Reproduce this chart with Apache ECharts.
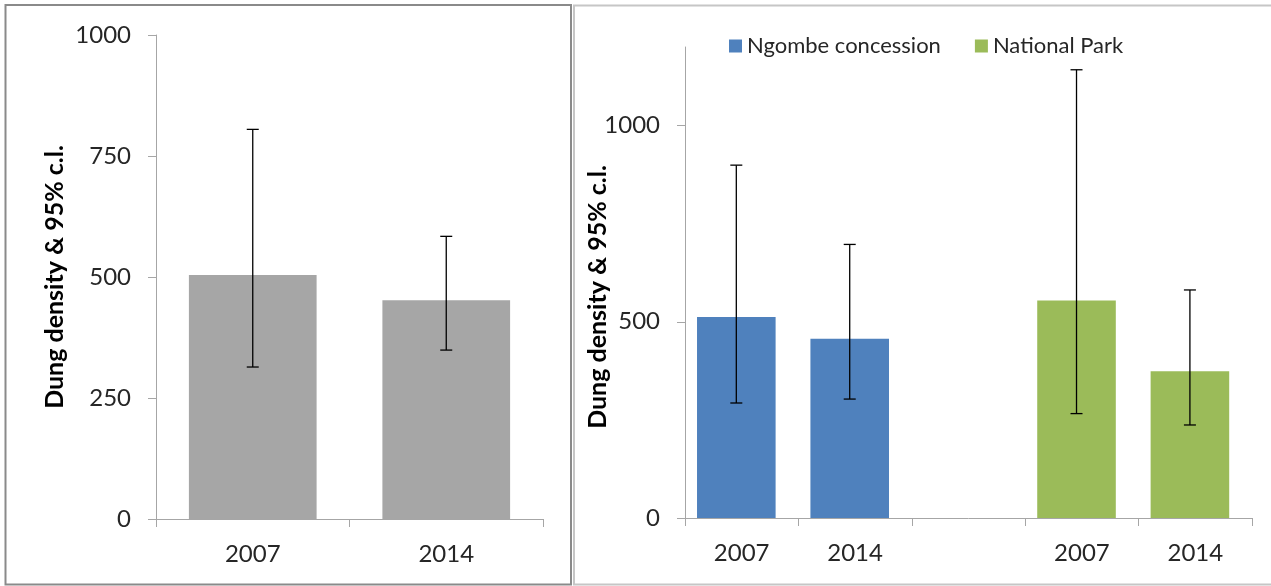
<!DOCTYPE html>
<html>
<head>
<meta charset="utf-8">
<script src="https://cdn.jsdelivr.net/npm/echarts@6/dist/echarts.min.js"></script>
<style>
  html, body { margin: 0; padding: 0; background: #ffffff; }
  #chart { width: 1271px; height: 586px; }
</style>
</head>
<body>
<div id="chart"></div>
<script>
// Overall dung density (left panel)
const allCategories = ['2007', '2014'];
const allMean = [504, 452];
const allLow = [314, 349];
const allHigh = [805, 584];

// By management zone (right panel)
const zoneCategories = ['2007', '2014', '', '2007', '2014'];
const concessionName = 'Ngombe concession';
const concessionMean = [512, 457];
const concessionLow = [293, 303];
const concessionHigh = [899, 697];
const parkName = 'National Park';
const parkMean = [554, 374];
const parkLow = [266, 237];
const parkHigh = [1142, 581];

const leftTicks = [0, 250, 500, 750, 1000];
const rightTicks = [0, 500, 1000];
const axisTitle = 'Dung density & 95% c.l.';

const FONT = 'Lato, "Open Sans", sans-serif';
const AXIS_GRAY = '#a6a6a6';
const TEXT = '#262626';

// Concession bars fill the first slots, park bars the last ones
const concessionSlots = [0, 1];
const parkSlots = [3, 4];

// Right-panel bar geometry (fractions of a category band). The empty
// trailing "slot" series sets the common start of the overlapped bars,
// which sits the bars slightly left of each band centre.
const ZONE_BAR = 0.693;
const ZONE_SLOT = 0.788;
const ZONE_SHIFT = -(ZONE_SLOT - ZONE_BAR) / 2;

function fillSlots(slots, values, total) {
  const out = new Array(total).fill('-');
  slots.forEach((s, i) => { out[s] = values[i]; });
  return out;
}
function ciRows(slots, low, high) {
  return slots.map((s, i) => [s, low[i], high[i]]);
}

function errorBarRenderer(shiftFrac) {
  return function (params, api) {
    const x = api.value(0);
    const band = api.size([1, 0])[0];
    const dx = shiftFrac * band;
    const lo = api.coord([x, api.value(1)]);
    const hi = api.coord([x, api.value(2)]);
    const cx = lo[0] + dx;
    const half = 6;
    const style = { stroke: '#000000', lineWidth: 1.3 };
    return {
      type: 'group',
      children: [
        { type: 'line', shape: { x1: cx, y1: lo[1], x2: cx, y2: hi[1] }, style },
        { type: 'line', shape: { x1: cx - half, y1: hi[1], x2: cx + half, y2: hi[1] }, style },
        { type: 'line', shape: { x1: cx - half, y1: lo[1], x2: cx + half, y2: lo[1] }, style }
      ]
    };
  };
}

const chart = echarts.init(document.getElementById('chart'), null, { renderer: 'canvas' });

const axisLine = { show: true, lineStyle: { color: AXIS_GRAY, width: 1 } };
const axisTick = { show: true, length: 8, lineStyle: { color: AXIS_GRAY, width: 1 } };
const labelStyle = { color: TEXT, fontFamily: FONT, fontSize: 24 };
const plain = v => String(v);

chart.setOption({
  animation: false,
  backgroundColor: '#ffffff',
  legend: {
    data: [concessionName, parkName],
    left: 724,
    top: 30,
    itemWidth: 13,
    itemHeight: 13,
    itemGap: 34,
    icon: 'rect',
    textStyle: { color: TEXT, fontFamily: FONT, fontSize: 22 }
  },
  grid: [
    { left: 156, top: 35, width: 387, height: 484 },
    { left: 685, top: 47, width: 567, height: 471 }
  ],
  xAxis: [
    {
      type: 'category', gridIndex: 0, data: allCategories,
      axisLine, axisTick,
      axisLabel: Object.assign({ margin: 23 }, labelStyle),
      splitLine: { show: false }
    },
    {
      type: 'category', gridIndex: 1, data: zoneCategories,
      axisLine, axisTick,
      axisLabel: Object.assign({ margin: 23, interval: 0 }, labelStyle),
      splitLine: { show: false }
    }
  ],
  yAxis: [
    {
      type: 'value', gridIndex: 0, min: 0, max: 1000, interval: 250,
      axisLine, axisTick: Object.assign({ customValues: leftTicks }, axisTick),
      axisLabel: Object.assign({ margin: 25, customValues: leftTicks, formatter: plain }, labelStyle),
      splitLine: { show: false }
    },
    {
      type: 'value', gridIndex: 1, min: 0, max: 1200, interval: 500,
      axisLine, axisTick: Object.assign({ customValues: rightTicks }, axisTick),
      axisLabel: Object.assign({ margin: 25, customValues: rightTicks, formatter: plain }, labelStyle),
      splitLine: { show: false }
    }
  ],
  graphic: [
    {
      type: 'rect', silent: true, z: -10,
      shape: { x: 5.5, y: 5, width: 565.5, height: 579.5 },
      style: { fill: 'none', stroke: '#8a8a8a', lineWidth: 2 }
    },
    {
      type: 'rect', silent: true, z: -10,
      shape: { x: 574, y: 5.5, width: 710, height: 579 },
      style: { fill: 'none', stroke: '#c6c6c6', lineWidth: 2 }
    },
    {
      type: 'text', x: 55, y: 277, rotation: Math.PI / 2,
      style: {
        text: axisTitle, fill: '#000000', fontFamily: FONT, fontWeight: 'bold',
        fontSize: 25, align: 'center', verticalAlign: 'middle'
      }
    },
    {
      type: 'text', x: 598, y: 297, rotation: Math.PI / 2,
      style: {
        text: axisTitle, fill: '#000000', fontFamily: FONT, fontWeight: 'bold',
        fontSize: 25, align: 'center', verticalAlign: 'middle'
      }
    }
  ],
  series: [
    {
      name: 'All', type: 'bar', xAxisIndex: 0, yAxisIndex: 0,
      data: allMean, barWidth: '66%',
      itemStyle: { color: '#a6a6a6' }
    },
    {
      type: 'custom', xAxisIndex: 0, yAxisIndex: 0, z: 5,
      renderItem: errorBarRenderer(0),
      encode: { x: 0, y: [1, 2] },
      data: allCategories.map((c, i) => [i, allLow[i], allHigh[i]])
    },
    {
      name: concessionName, type: 'bar', xAxisIndex: 1, yAxisIndex: 1,
      data: fillSlots(concessionSlots, concessionMean, zoneCategories.length),
      barWidth: (ZONE_BAR * 100) + '%', barGap: '-100%',
      itemStyle: { color: '#4f81bd' }
    },
    {
      name: parkName, type: 'bar', xAxisIndex: 1, yAxisIndex: 1,
      data: fillSlots(parkSlots, parkMean, zoneCategories.length),
      barWidth: (ZONE_BAR * 100) + '%', barGap: '-100%',
      itemStyle: { color: '#9bbb59' }
    },
    {
      // empty layout slot, draws nothing
      type: 'bar', xAxisIndex: 1, yAxisIndex: 1,
      data: fillSlots([], [], zoneCategories.length),
      barWidth: (ZONE_SLOT * 100) + '%', barGap: '-100%',
      silent: true
    },
    {
      type: 'custom', xAxisIndex: 1, yAxisIndex: 1, z: 5,
      renderItem: errorBarRenderer(ZONE_SHIFT),
      encode: { x: 0, y: [1, 2] },
      data: ciRows(concessionSlots, concessionLow, concessionHigh)
        .concat(ciRows(parkSlots, parkLow, parkHigh))
    }
  ]
});
</script>
</body>
</html>
